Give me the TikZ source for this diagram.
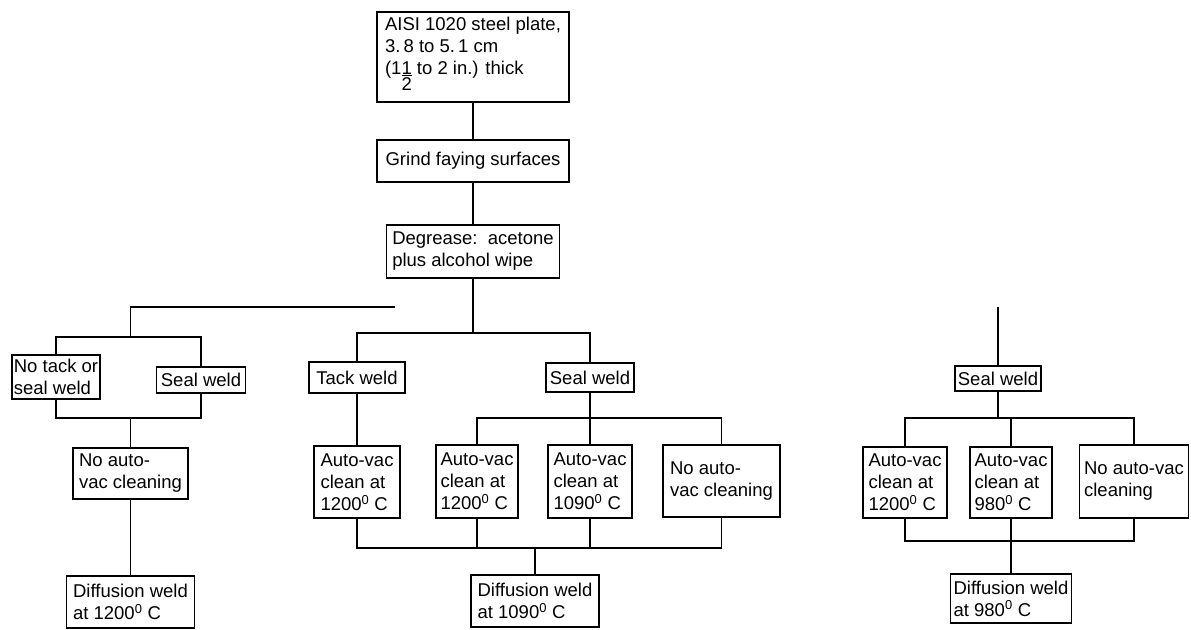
\documentclass[tikz,border=0pt]{standalone}
\usepackage{fontspec}
\setmainfont{Liberation Sans}
\begin{document}
\begin{tikzpicture}[x=1pt,y=-1pt,
  box/.style={draw, line width=1.4pt, inner xsep=2pt, inner ysep=0pt, align=left,
    font=\fontsize{18.5}{22}\selectfont},
  conn/.style={line width=1.4pt}]
\useasboundingbox (0,0) rectangle (1191,629);

% main column
\node[box, minimum width=192pt, minimum height=90pt] (plate) at (473,57)
  {AISI 1020 steel plate,\\3.\,8 to 5.\,1 cm\\(1\begin{tabular}[t]{@{}c@{}}1\\[-6pt]\hline 2\end{tabular} to 2 in.) thick};
\node[box, minimum width=192pt, minimum height=42pt] (grind) at (473,161) {Grind faying surfaces};
\node[box, minimum width=173pt, minimum height=53pt] (degrease) at (473,251.5) {Degrease:\ \ acetone\\plus alcohol wipe};

% left branch
\node[box, minimum width=88pt, minimum height=44pt] (notack) at (56,377) {No tack or\\seal weld};
\node[box, minimum width=89pt, minimum height=26pt] (sealL) at (201,380) {Seal weld};
\node[box, minimum width=115pt, minimum height=51pt] (noautoL) at (130.5,473.5) {No auto-\\vac cleaning};
\node[box, minimum width=128pt, minimum height=52pt] (diffL) at (130.5,602) {Diffusion weld\\at 1200\textsuperscript{0} C};

% centre branch
\node[box, minimum width=96pt, minimum height=31pt] (tack) at (357,377.5) {Tack weld};
\node[box, minimum width=88pt, minimum height=29pt] (sealC) at (590,377.5) {Seal weld};
\node[box, minimum width=86pt, minimum height=72pt] (A1) at (357,482) {Auto-vac\\clean at\\1200\textsuperscript{0} C};
\node[box, minimum width=82pt, minimum height=73pt] (A2) at (477,481.5) {Auto-vac\\clean at\\1200\textsuperscript{0} C};
\node[box, minimum width=84pt, minimum height=73pt] (A3) at (590,481.5) {Auto-vac\\clean at\\1090\textsuperscript{0} C};
\node[box, minimum width=117pt, minimum height=72pt] (A4) at (721.5,481) {No auto-\\vac cleaning};
\node[box, minimum width=128pt, minimum height=52pt] (diffC) at (535,601) {Diffusion weld\\at 1090\textsuperscript{0} C};

% right branch
\node[box, minimum width=86pt, minimum height=25pt] (sealR) at (998,378.5) {Seal weld};
\node[box, minimum width=84pt, minimum height=71pt] (B1) at (905,482.5) {Auto-vac\\clean at\\1200\textsuperscript{0} C};
\node[box, minimum width=82pt, minimum height=71pt] (B2) at (1011,482.5) {Auto-vac\\clean at\\980\textsuperscript{0} C};
\node[box, minimum width=109pt, minimum height=73pt] (B3) at (1134,481.5) {No auto-vac\\cleaning};
\node[box, minimum width=121pt, minimum height=49pt] (diffR) at (1011,598.5) {Diffusion weld\\at 980\textsuperscript{0} C};

% junction coordinates
\coordinate (jC) at (473,333);
\coordinate (lineEnd) at (395,307);
\coordinate (jL0) at (130.5,307);
\coordinate (jL1) at (130.5,337);
\coordinate (jL2) at (130.5,418);
\coordinate (jC2) at (590,418);
\coordinate (jC3) at (535,548);
\coordinate (rTop) at (998,307);
\coordinate (jR1) at (998,418);
\coordinate (jR2) at (1011,541);

% connectors: main column
\draw[conn] (plate) -- (grind);
\draw[conn] (grind) -- (degrease);
\draw[conn] (degrease.south) -- (jC);

% left branch
\draw[conn] (lineEnd) -- (jL0) -- (jL1);
\draw[conn] (notack.north) |- (jL1) -| (sealL.north);
\draw[conn] (notack.south) |- (jL2) -| (sealL.south);
\draw[conn] (jL2) -- (noautoL.north);
\draw[conn] (noautoL.south) -- (diffL.north);

% centre branch
\draw[conn] (tack.north) |- (jC) -| (sealC.north);
\draw[conn] (tack.south) -- (A1.north);
\draw[conn] (sealC.south) -- (jC2);
\draw[conn] (A2.north) |- (jC2) -| (A4.north);
\draw[conn] (jC2) -- (A3.north);
\draw[conn] (A1.south) |- (jC3) -| (A4.south);
\draw[conn] (A2.south) -- (A2.south |- jC3);
\draw[conn] (A3.south) -- (A3.south |- jC3);
\draw[conn] (jC3) -- (diffC.north);

% right branch
\draw[conn] (rTop) -- (sealR.north);
\draw[conn] (sealR.south) -- (jR1);
\draw[conn] (B1.north) |- (jR1) -| (B3.north);
\draw[conn] (B2.north) -- (B2.north |- jR1);
\draw[conn] (B1.south) |- (jR2) -| (B3.south);
\draw[conn] (B2.south) -- (jR2);
\draw[conn] (jR2) -- (diffR.north);
\end{tikzpicture}
\end{document}
